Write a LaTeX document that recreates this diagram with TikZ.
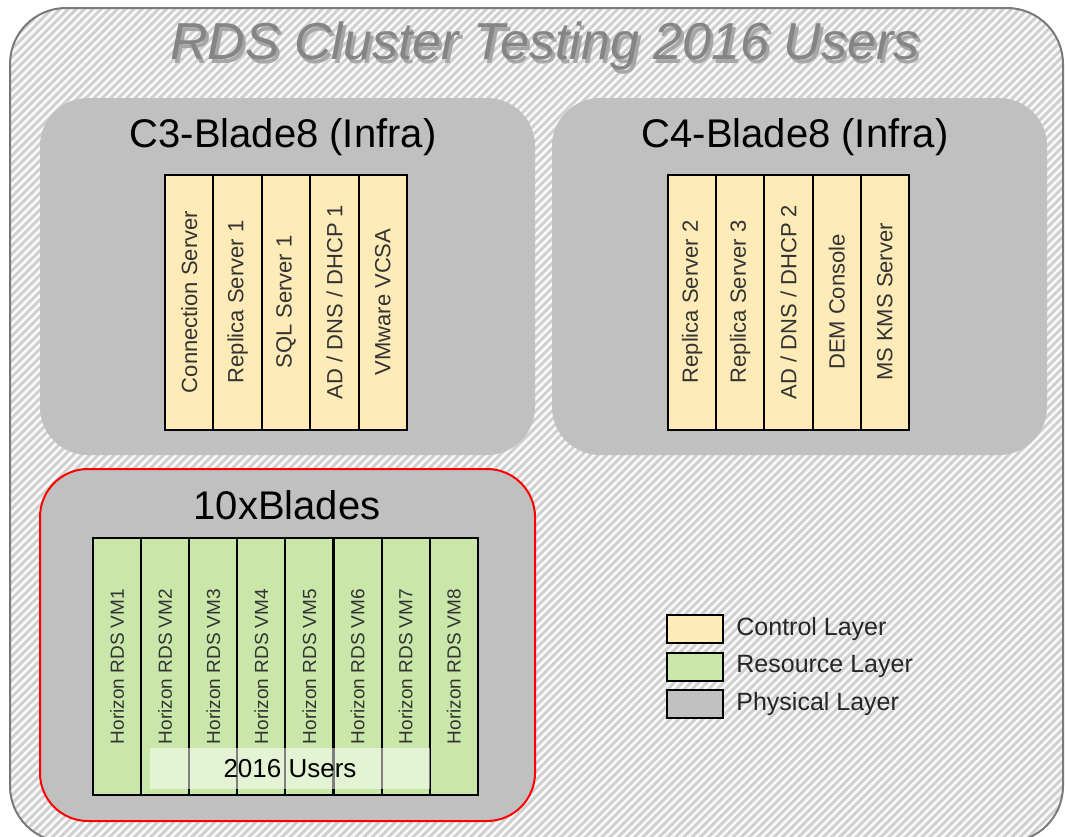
\documentclass[tikz,border=0pt]{standalone}
\usepackage{fontspec}
\setmainfont{Liberation Sans}
\usetikzlibrary{patterns.meta}

\definecolor{ctrlfill}{HTML}{FFEBB7}
\definecolor{resfill}{HTML}{CAE7AA}
\definecolor{physfill}{HTML}{C0C0C0}
\definecolor{hatchbg}{HTML}{D0D0D0}
\definecolor{framegray}{HTML}{7A7A7A}
\definecolor{titlegray}{HTML}{858585}
\definecolor{shadowgray}{HTML}{A6A6A6}

\newcommand{\shadowtext}[1]{\makebox[0pt][l]{\raisebox{-2pt}{\hspace{1.5pt}\textcolor{shadowgray}{#1}}}#1}

\begin{document}
\begin{tikzpicture}[
  x=0.5pt, y=-0.5pt,
  blade/.style={fill=physfill, rounded corners=24pt, minimum width=247.5pt,
                minimum height=178.5pt, inner sep=0pt},
  bladetitle/.style={inner sep=0pt, font=\fontsize{20}{24}\selectfont},
  vm/.style={draw, line width=1pt, rotate=90, minimum width=127.5pt,
             minimum height=24.2pt, inner sep=0pt, font=\fontsize{11}{13}\selectfont,
             text=black!80},
  ctrl/.style={vm, fill=ctrlfill},
  res/.style={vm, fill=resfill, minimum width=128.5pt, minimum height=24pt,
              font=\fontsize{9.5}{11}\selectfont},
  key/.style={draw, line width=1pt, minimum width=28pt, minimum height=14pt, inner sep=0pt},
  keytext/.style={anchor=west, inner sep=0pt, font=\fontsize{12.5}{15}\selectfont, text=black!85},
]

\path[use as bounding box] (0,0) rectangle (1065,836);
\clip (0,0) rectangle (1065,836);

% ---------- hatched frame ----------
\draw[framegray, line width=1pt, rounded corners=28pt,
      preaction={fill=hatchbg},
      pattern={Lines[angle=45, distance=2.9pt, line width=1.3pt]}, pattern color=white!96!gray]
  (10,8) rectangle (1063,842);
\node[text=titlegray, font=\fontsize{26}{30}\selectfont\itshape] (ttl) at (545,48)
  {\shadowtext{RDS Cluster Testing 2016 Users}};

% ---------- blades ----------
\node[blade] (c3) at (287.5,276.5) {};
\node[blade] (c4) at (799.5,276.5) {};
\node[blade, draw=red, line width=1pt, minimum height=176pt] (bl) at (287.5,645) {};
\node[bladetitle] (c3t) at (283,137) {C3-Blade8 (Infra)};
\node[bladetitle] (c4t) at (795,137) {C4-Blade8 (Infra)};
\node[bladetitle] (blt) at (287,505) {10xBlades};

% ---------- control layer VMs ----------
\foreach \lbl [count=\i] in {Connection Server, Replica Server 1, SQL Server 1,
                             AD / DNS / DHCP 1, VMware VCSA}
  \node[ctrl] (c3v\i) at ({165+48.4*(\i-0.5)},302) {\lbl};
\foreach \lbl [count=\i] in {Replica Server 2, Replica Server 3, AD / DNS / DHCP 2,
                             DEM Console, MS KMS Server}
  \node[ctrl] (c4v\i) at ({668+48.2*(\i-0.5)},302) {\lbl};

% ---------- resource layer VMs ----------
\foreach \i in {1,...,8}
  \node[res] (rds\i) at ({93+48.1*(\i-0.5)},666.5) {Horizon RDS VM\i};
\node[fill=white, fill opacity=0.5, text opacity=1, minimum width=140pt, minimum height=20.5pt,
      inner sep=0pt, font=\fontsize{13}{15}\selectfont] (users) at (290,768.5) {2016 Users};

% ---------- legend ----------
\node[key, fill=ctrlfill] (kc) at (695,629) {};
\node[key, fill=resfill] (kr) at (695,666.5) {};
\node[key, fill=physfill] (kp) at (695,704) {};
\node[keytext] (kct) at (736,629) {Control Layer};
\node[keytext] (krt) at (736,666.5) {Resource Layer};
\node[keytext] (kpt) at (736,704) {Physical Layer};

\end{tikzpicture}
\end{document}
